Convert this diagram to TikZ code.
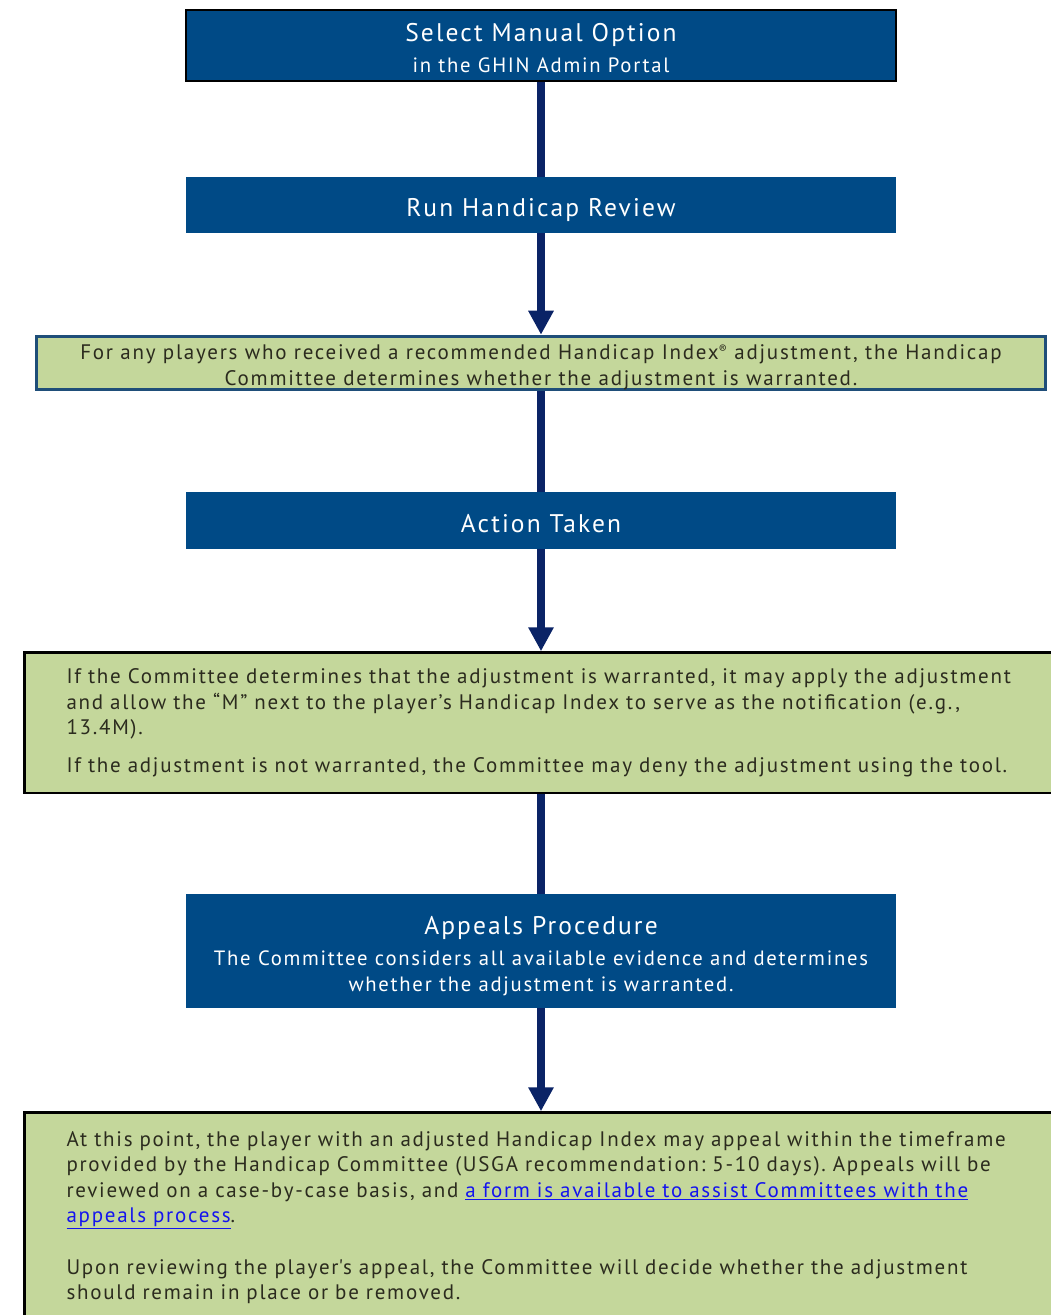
\documentclass[tikz,border=0pt]{standalone}
\usepackage{fontspec}
\setmainfont{PT Sans}[LetterSpace=8.3]
\usepackage{tikz}
\usetikzlibrary{arrows.meta, positioning}
\frenchspacing

\definecolor{ghinblue}{HTML}{004A86}
\definecolor{ghinnavy}{HTML}{0A2366}
\definecolor{notegreen}{HTML}{C4D79B}
\definecolor{noteedge}{HTML}{1F4E79}
\definecolor{notetext}{HTML}{2B2B1E}
\definecolor{linkblue}{HTML}{1414EE}

\newcommand{\boxtitle}{\fontsize{25.5}{30}\selectfont}
\newcommand{\reglink}[1]{\textcolor{linkblue}{\underline{#1}}}

\tikzset{
  stepbox/.style={fill=ghinblue, text=white, align=center, minimum width=710pt, inner sep=0pt, font=\fontsize{20.7}{26}\selectfont},
  onetitle/.style={text height=23pt, text depth=0pt},
  notebox/.style={fill=notegreen, text=notetext, inner sep=0pt, font=\fontsize{21}{25.6}\selectfont},
  widenote/.style={notebox, draw=black, line width=2.5pt, anchor=north west, align=left, text width=968pt, inner xsep=41.75pt, minimum width=1052pt},
  flow/.style={ghinnavy, line width=8pt},
  flowarrow/.style={flow, -{Triangle[width=24pt, length=24pt]}},
}

\begin{document}
\begin{tikzpicture}[x=1pt, y=-1pt]
\useasboundingbox (0,0) rectangle (1051,1315);
\clip (0,0) rectangle (1051,1315);

% Steps in the blue boxes
\node[stepbox, draw=black, line width=1.5pt, minimum height=71pt] (select) at (541,45.5)
  {\rule{0pt}{24pt}{\boxtitle Select Manual Option}\\[5pt] in the GHIN Admin Portal};
\node[stepbox, onetitle, minimum height=56pt] (review) at (541,205) {\boxtitle Run Handicap Review};
\node[notebox, draw=noteedge, line width=3pt, align=center, minimum width=1009pt, minimum height=53pt] (committee) at (541,363)
  {\rule{0pt}{23.5pt}For any players who received a recommended Handicap Index\raisebox{0.55ex}{\fontsize{12}{12}\selectfont ®} adjustment, the Handicap\\
   Committee determines whether the adjustment is warranted.};
\node[stepbox, onetitle, minimum height=57pt] (action) at (541,520.5) {\boxtitle Action Taken};

% Decision and appeal notes
\node[widenote, minimum height=140.5pt] (decision) at (23.25,651.25)
  {If the Committee determines that the adjustment is warranted, it may apply the adjustment\\
   and allow the “M” next to the player’s Handicap Index to serve as the notification (e.g.,\\
   13.4M).\\[12pt]
   If the adjustment is not warranted, the Committee may deny the adjustment using the tool.};
\node[stepbox, minimum height=114pt] (appeals) at (541,951)
  {\rule{0pt}{28pt}{\boxtitle Appeals Procedure}\\[5pt]
   The Committee considers all available evidence and determines\\
   whether the adjustment is warranted.};
\node[widenote, minimum height=210pt] (outcome) at (23.25,1111.25)
  {At this point, the player with an adjusted Handicap Index may appeal within the timeframe\\
   provided by the Handicap Committee (USGA recommendation: 5-10 days). Appeals will be\\
   reviewed on a case-by-case basis, and \reglink{a form is available to assist Committees with the}\\
   \reglink{appeals process}.\\[25.6pt]
   Upon reviewing the player\textquotesingle s appeal, the Committee will decide whether the adjustment\\
   should remain in place or be removed.};

% Connectors
\draw[flow] (select) -- (review);
\draw[flowarrow] (review) -- (committee);
\draw[flow] (committee) -- (action);
\draw[flowarrow] (action.south) -- (action.south |- decision.north);
\draw[flow] (appeals.north |- decision.south) -- (appeals.north);
\draw[flowarrow] (appeals.south) -- (appeals.south |- outcome.north);

\end{tikzpicture}
\end{document}
